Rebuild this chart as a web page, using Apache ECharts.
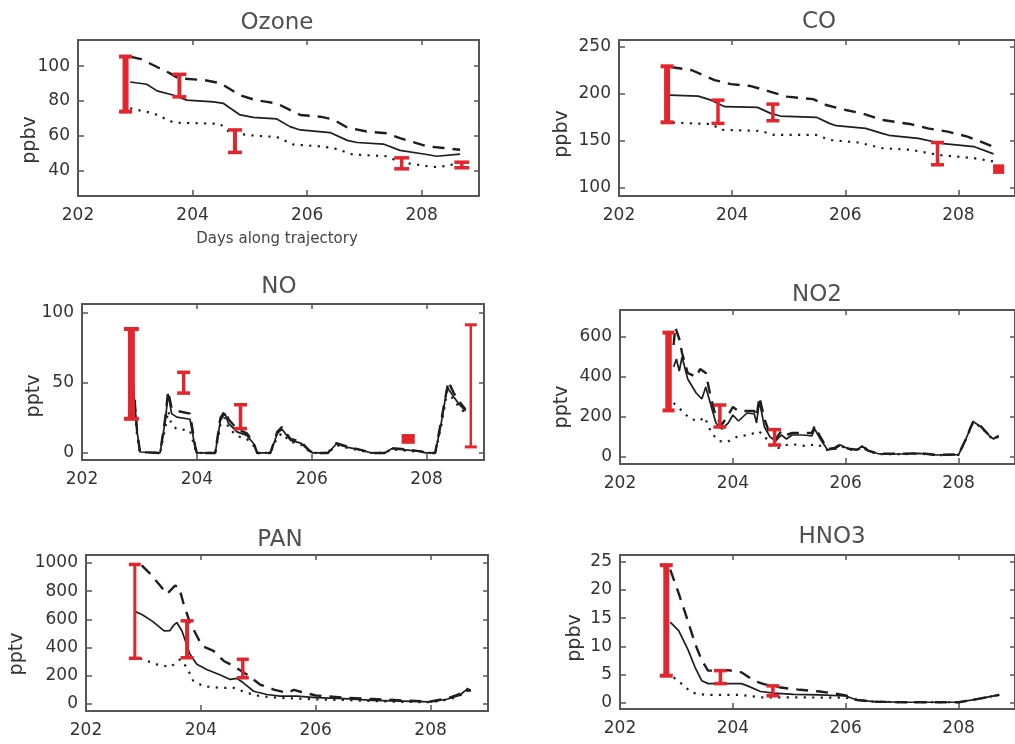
<!DOCTYPE html>
<html>
<head>
<meta charset="utf-8">
<script src="https://cdn.jsdelivr.net/npm/echarts@6.0.0/dist/echarts.min.js"></script>
<style>
html,body{margin:0;padding:0;background:#fff;}
#chart{width:1015px;height:744px;}
</style>
</head>
<body>
<div id="chart"></div>
<script>
// ---------------- DATA ----------------
const xTicks = [202, 204, 206, 208];

// Ozone (ppbv)
const ozoneDashed = [[202.91,105.5],[203.1,104],[203.38,99.5],[203.6,96],[203.75,93],[204.2,92],[204.48,90.3],[204.83,83.3],[205.1,80.5],[205.3,79.5],[205.47,78.6],[205.88,72],[206.23,71],[206.45,69.5],[206.7,64.8],[207.04,62.5],[207.39,61.5],[207.62,58.7],[208.09,54],[208.38,53],[208.67,52]];
const ozoneSolid = [[202.91,90.9],[203.2,89.6],[203.38,85.8],[203.67,83.3],[203.9,80.5],[204.37,79.5],[204.54,78.6],[204.83,72],[205.06,70.6],[205.47,69.7],[205.7,65.3],[205.88,63.4],[206.4,61.9],[206.7,57.4],[206.87,56.2],[207.33,55.3],[207.62,51.7],[208.09,49.3],[208.26,48.3],[208.67,49.5]];
const ozoneDotted = [[202.91,75.8],[203.32,72.9],[203.67,67.6],[204.48,66.9],[204.66,61.6],[205.06,60.2],[205.47,59.3],[205.76,55],[206.23,54],[206.46,53],[206.8,49.3],[207.39,48.3],[207.62,44.9],[208.2,42.1],[208.44,42.7],[208.67,44.9]];
const ozoneObs = [[202.83,73.9,105.5],[203.77,82.4,95.3],[204.74,50.5,63.4],[207.65,41.1,47.4],[208.7,41.7,44.9]];
const ozoneTicks = [40, 60, 80, 100];

// CO (ppbv)
const coDashed = [[202.91,228.8],[203.29,225.3],[203.69,214.8],[203.98,210.5],[204.33,208.5],[204.68,202.4],[204.97,197.2],[205.43,194.6],[205.66,188.3],[206.01,183],[206.3,179.4],[206.65,172.4],[207.17,167.8],[207.46,163.5],[207.81,160],[208.16,154.7],[208.62,144]];
const coSolid = [[202.9,198.8],[203.4,197.8],[203.63,193.5],[203.87,186.5],[204.45,185.8],[204.68,179.4],[204.85,176.6],[205.49,175.2],[205.72,168.8],[205.84,166.3],[206.36,163.5],[206.65,158.2],[206.77,156.1],[207.29,152.9],[207.69,147.6],[208.27,144.1],[208.62,136.3]];
const coDotted = [[202.95,169.6],[203.63,168.1],[203.81,161.8],[204.5,160.8],[204.74,156.5],[205.49,156.5],[205.72,151.2],[206.24,148.4],[206.65,142.4],[207.17,140.6],[207.63,135.3],[208.27,131.8],[208.62,128.2]];
const coObs = [[202.85,169.9,229.5],[203.75,168.8,193.5],[204.72,171.6,189.3],[207.63,124.7,148.4],[208.71,116.6,123.6]];
const coTicks = [100, 150, 200, 250];

// NO (pptv)
const noDashed = [[202.88,52],[202.92,36],[202.96,15],[203.01,0.7],[203.36,0],[203.45,25],[203.5,44],[203.56,32],[203.65,30],[203.88,28],[203.97,5],[204.0,0],[204.32,0],[204.41,25],[204.49,30],[204.55,24],[204.7,17],[204.87,14],[204.99,7],[205.05,0],[205.28,0],[205.4,15],[205.48,18.5],[205.63,10],[205.81,8],[205.95,2],[206.02,0],[206.28,0],[206.43,7],[206.63,4.5],[206.87,2],[207.04,0],[207.27,0],[207.39,3.5],[207.68,2.5],[207.92,1],[207.98,0],[208.15,0],[208.25,22],[208.38,51],[208.47,43],[208.56,37],[208.68,31]];
const noSolid = [[202.88,50],[202.92,35],[202.96,15],[203.01,0.7],[203.36,0],[203.45,23],[203.5,42],[203.56,28],[203.65,25.5],[203.88,24],[203.97,4],[204.0,0],[204.32,0],[204.41,23],[204.49,28],[204.55,21],[204.7,15],[204.87,12.5],[204.99,6.6],[205.05,0],[205.28,0],[205.4,13.7],[205.48,17],[205.63,9],[205.81,7],[205.95,2],[206.02,0],[206.28,0],[206.43,6.4],[206.63,4],[206.87,2],[207.04,0],[207.27,0],[207.39,3],[207.68,2],[207.92,1],[207.98,0],[208.15,0],[208.25,20],[208.36,47],[208.47,40],[208.56,35],[208.68,30]];
const noDotted = [[202.88,45],[202.92,30],[202.96,12],[203.01,0.5],[203.36,0],[203.45,18],[203.5,30],[203.56,20],[203.65,17],[203.88,16],[203.97,3],[204.0,0],[204.32,0],[204.41,20],[204.49,25],[204.55,18],[204.7,12],[204.87,10],[204.99,5],[205.05,0],[205.28,0],[205.4,11],[205.48,14],[205.63,8],[205.81,6],[205.95,1.5],[206.02,0],[206.28,0],[206.43,5.5],[206.63,3.5],[206.87,1.5],[207.04,0],[207.27,0],[207.39,2.5],[207.68,1.5],[207.92,0.8],[207.98,0],[208.15,0],[208.25,18],[208.36,44],[208.47,38],[208.56,33],[208.68,28]];
const noObs = [[202.86,24.3,88.2],[203.77,42.6,57.4],[204.76,17.3,34.3],[207.68,7.6,12.4],[208.77,4.3,91.2]];
const noTicks = [0, 50, 100];

// NO2 (pptv)
const no2Dashed = [[202.95,560],[202.98,650],[203.05,590],[203.1,520],[203.2,420],[203.35,400],[203.42,440],[203.52,420],[203.6,310],[203.7,200],[203.8,160],[203.92,210],[204.0,250],[204.1,230],[204.25,230],[204.38,230],[204.42,200],[204.47,300],[204.56,190],[204.66,110],[204.76,90],[204.86,130],[204.95,110],[205.05,120],[205.25,120],[205.4,120],[205.45,155],[205.55,100],[205.68,40],[205.8,45],[205.91,63],[206.05,42],[206.2,37],[206.29,57],[206.4,32],[206.6,16],[207.0,16],[207.3,19],[207.6,11],[208.0,13],[208.1,72],[208.26,178],[208.4,152],[208.55,106],[208.62,91],[208.71,106]];
const no2Solid = [[202.95,450],[203.0,490],[203.05,430],[203.1,500],[203.2,390],[203.35,320],[203.45,290],[203.52,350],[203.6,270],[203.7,170],[203.8,140],[203.92,170],[204.0,210],[204.1,180],[204.25,220],[204.38,215],[204.42,170],[204.47,280],[204.56,150],[204.66,100],[204.76,80],[204.86,110],[204.95,90],[205.05,110],[205.25,110],[205.4,105],[205.45,140],[205.55,90],[205.68,35],[205.8,40],[205.91,60],[206.05,40],[206.2,35],[206.29,55],[206.4,30],[206.6,15],[207.0,15],[207.3,18],[207.6,10],[208.0,12],[208.1,70],[208.26,177],[208.4,150],[208.55,105],[208.62,90],[208.71,105]];
const no2Dotted = [[202.95,270],[203.1,230],[203.25,190],[203.4,180],[203.5,200],[203.62,120],[203.75,80],[203.9,75],[204.1,105],[204.3,110],[204.45,130],[204.55,110],[204.68,55],[204.8,45],[204.95,60],[205.1,62],[205.3,55],[205.5,65],[205.65,35],[205.8,38],[205.91,55],[206.05,38],[206.2,33],[206.29,52],[206.4,28],[206.6,14],[207.0,14],[207.3,17],[207.6,9],[208.0,11],[208.1,68],[208.26,175],[208.4,148],[208.55,103],[208.62,88],[208.71,103]];
const no2Obs = [[202.86,233,622],[203.77,150,260],[204.74,60,137]];
const no2Ticks = [0, 200, 400, 600];

// PAN (pptv)
const panDashed = [[202.97,983],[203.12,923],[203.29,840],[203.41,780],[203.55,840],[203.62,830],[203.7,709],[203.81,578],[203.9,507],[204.02,412],[204.22,376],[204.4,305],[204.57,269],[204.8,209],[205.03,138],[205.27,102],[205.5,79],[205.62,100],[205.75,85],[206.0,60],[206.5,45],[207.0,35],[207.5,25],[208.0,18],[208.3,40],[208.5,70],[208.62,110],[208.7,95]];
const panSolid = [[202.85,657],[202.98,633],[203.16,586],[203.36,519],[203.46,520],[203.52,555],[203.58,578],[203.67,519],[203.81,352],[203.93,281],[204.1,245],[204.34,205],[204.51,174],[204.63,181],[204.74,150],[204.92,90],[205.15,67],[205.38,55],[205.67,55],[206.0,45],[206.5,38],[207.0,25],[207.5,20],[208.0,15],[208.3,35],[208.5,60],[208.62,100],[208.7,90]];
const panDotted = [[202.94,324],[203.23,281],[203.47,262],[203.64,317],[203.76,257],[203.87,162],[204.05,126],[204.34,114],[204.57,114],[204.8,79],[205.03,55],[205.38,43],[205.67,38],[206.0,32],[206.5,28],[207.0,20],[207.5,15],[208.0,12],[208.3,30],[208.5,55],[208.62,95],[208.7,85]];
const panObs = [[202.85,324,990],[203.76,328,590],[204.73,186,317]];
const panTicks = [0, 200, 400, 600, 800, 1000];

// HNO3 (ppbv)
const hno3Dashed = [[202.89,23.6],[203.04,19.4],[203.18,15.2],[203.33,10.5],[203.45,7.5],[203.56,5.7],[203.74,5.7],[203.91,5.8],[204.15,5.4],[204.38,3.9],[204.55,3.3],[204.85,2.7],[205.19,2.3],[205.54,2.0],[205.9,1.5],[206.0,1.3],[206.2,0.5],[206.5,0.2],[207.0,0.1],[207.5,0.1],[208.0,0.1],[208.3,0.6],[208.72,1.4]];
const hno3Solid = [[202.89,14.3],[203.04,12.8],[203.21,9.3],[203.33,6.3],[203.45,3.9],[203.56,3.4],[203.85,3.4],[204.15,3.4],[204.26,3.0],[204.49,2.0],[204.73,1.7],[205.08,1.5],[205.54,1.4],[206.0,1.2],[206.2,0.5],[206.5,0.2],[207.0,0.1],[207.5,0.1],[208.0,0.1],[208.3,0.6],[208.72,1.4]];
const hno3Dotted = [[202.95,4.5],[203.1,3.3],[203.27,1.8],[203.51,1.4],[204.15,1.4],[204.49,0.95],[205.3,0.95],[206.0,0.9],[206.2,0.5],[206.5,0.2],[207.0,0.1],[207.5,0.1],[208.0,0.1],[208.3,0.6],[208.72,1.4]];
const hno3Obs = [[202.82,4.8,24.4],[203.78,3.4,5.7],[204.71,1.25,3.0]];
const hno3Ticks = [0, 5, 10, 15, 20, 25];

// ---------------- STYLE / LAYOUT ----------------
const RED = '#e3262d';
const LINE = '#1e1e1e';
const FONT = '"DejaVu Sans", "Liberation Sans", sans-serif';

// error-bar drawing sizes (px): stem width, cap width, cap height
const B = (s, c, h) => ({stem: s, cap: c, capH: h});
const panels = [
  {title: 'Ozone', unit: 'ppbv', dashed: ozoneDashed, solid: ozoneSolid, dotted: ozoneDotted, obs: ozoneObs, ticks: ozoneTicks,
   grid: {left: 78, top: 40, width: 401, height: 156}, yMin: 25.5, yMax: 115,
   titlePos: [277, 23], unitPos: [30, 140],
   bars: [B(6,13,4), B(4,14,3.5), B(4,14,3.5), B(3.5,15,3.5), B(3.5,15,3.5)]},
  {title: 'CO', unit: 'ppbv', dashed: coDashed, solid: coSolid, dotted: coDotted, obs: coObs, ticks: coTicks,
   grid: {left: 619, top: 40, width: 402, height: 156}, yMin: 91.5, yMax: 257.5,
   titlePos: [819, 22], unitPos: [562, 134],
   bars: [B(6,13,4), B(3.5,13,3.5), B(3.5,13,3.5), B(3.5,13,3.5), B(11,11,3)]},
  {title: 'NO', unit: 'pptv', dashed: noDashed, solid: noSolid, dotted: noDotted, obs: noObs, ticks: noTicks,
   grid: {left: 82, top: 304, width: 402, height: 156}, yMin: -5, yMax: 106,
   titlePos: [279, 287], unitPos: [34, 396],
   bars: [B(7,15,4), B(3.5,13,3.5), B(3.5,13,3.5), B(13,13,3), B(2.5,12,3)]},
  {title: 'NO2', unit: 'pptv', dashed: no2Dashed, solid: no2Solid, dotted: no2Dotted, obs: no2Obs, ticks: no2Ticks,
   grid: {left: 620, top: 310, width: 401, height: 154}, yMin: -35, yMax: 735,
   titlePos: [817, 295], unitPos: [562, 407],
   bars: [B(6.5,12,4), B(3.5,13,3.5), B(3.5,13,3.5)]},
  {title: 'PAN', unit: 'pptv', dashed: panDashed, solid: panSolid, dotted: panDotted, obs: panObs, ticks: panTicks,
   grid: {left: 86, top: 555, width: 402, height: 156}, yMin: -50, yMax: 1057,
   titlePos: [280, 540], unitPos: [17, 654],
   bars: [B(3,12,3.5), B(4,13,3.5), B(3.5,12,3.5)]},
  {title: 'HNO3', unit: 'ppbv', dashed: hno3Dashed, solid: hno3Solid, dotted: hno3Dotted, obs: hno3Obs, ticks: hno3Ticks,
   grid: {left: 620, top: 555, width: 401, height: 154}, yMin: -1.1, yMax: 26.2,
   titlePos: [832, 537], unitPos: [575, 638],
   bars: [B(6,13,4), B(3.5,13,3.5), B(3.5,13,3.5)]}
];

// ---------------- BUILD ----------------
const grids = [], xAxes = [], yAxes = [], series = [], graphics = [];
const axisLine = {show: true, onZero: false, lineStyle: {color: '#555', width: 2}};
const labelStyle = {color: '#333', fontFamily: FONT, fontSize: 17};
const tickStyle = {color: '#555', width: 1.5};

panels.forEach((p, i) => {
  grids.push(Object.assign({containLabel: false}, p.grid));
  // bottom & top x axes
  xAxes.push({type: 'value', gridIndex: i, position: 'bottom', min: 202, max: 209,
    axisLine: axisLine, splitLine: {show: false},
    axisTick: {show: true, inside: true, length: 6, customValues: xTicks, lineStyle: tickStyle},
    axisLabel: Object.assign({margin: 11, customValues: xTicks, formatter: v => String(v)}, labelStyle)});
  xAxes.push({type: 'value', gridIndex: i, position: 'top', min: 202, max: 209,
    axisLine: axisLine, splitLine: {show: false},
    axisTick: {show: true, inside: true, length: 5, customValues: xTicks, lineStyle: tickStyle},
    axisLabel: {show: false}});
  // left & right y axes
  yAxes.push({type: 'value', gridIndex: i, position: 'left', min: p.yMin, max: p.yMax,
    axisLine: axisLine, splitLine: {show: false},
    axisTick: {show: true, inside: true, length: 6, customValues: p.ticks, lineStyle: tickStyle},
    axisLabel: Object.assign({margin: 8, customValues: p.ticks, formatter: v => String(v)}, labelStyle)});
  yAxes.push({type: 'value', gridIndex: i, position: 'right', min: p.yMin, max: p.yMax,
    axisLine: axisLine, splitLine: {show: false},
    axisTick: {show: true, inside: true, length: 5, customValues: p.ticks, lineStyle: tickStyle},
    axisLabel: {show: false}});

  const xi = 2 * i, yi = 2 * i;
  const lineBase = {type: 'line', xAxisIndex: xi, yAxisIndex: yi, showSymbol: false, symbol: 'none', silent: true, z: 3};
  series.push(Object.assign({}, lineBase, {name: p.title + ' dashed', data: p.dashed,
    lineStyle: {color: LINE, width: 2.4, type: [12, 8]}}));
  series.push(Object.assign({}, lineBase, {name: p.title + ' solid', data: p.solid,
    lineStyle: {color: LINE, width: 1.7, type: 'solid'}}));
  series.push(Object.assign({}, lineBase, {name: p.title + ' dotted', data: p.dotted,
    lineStyle: {color: LINE, width: 2.2, type: [2.2, 6.3]}}));

  const bars = p.bars;
  series.push({
    type: 'custom', name: p.title + ' obs', xAxisIndex: xi, yAxisIndex: yi, z: 5, silent: true,
    data: p.obs,
    encode: {x: 0, y: [1, 2]},
    renderItem: function (params, api) {
      const x = api.value(0), lo = api.value(1), hi = api.value(2);
      const t = api.coord([x, hi]), b = api.coord([x, lo]);
      const st = bars[params.dataIndex];
      const cx = t[0];
      return {type: 'group', children: [
        {type: 'rect', shape: {x: cx - st.stem / 2, y: t[1], width: st.stem, height: b[1] - t[1]}, style: {fill: RED}},
        {type: 'rect', shape: {x: cx - st.cap / 2, y: t[1] - st.capH / 2, width: st.cap, height: st.capH}, style: {fill: RED}},
        {type: 'rect', shape: {x: cx - st.cap / 2, y: b[1] - st.capH / 2, width: st.cap, height: st.capH}, style: {fill: RED}}
      ]};
    }
  });

  graphics.push({type: 'text', x: p.titlePos[0], y: p.titlePos[1], silent: true,
    style: {text: p.title, font: '23px ' + FONT, fill: '#505050', align: 'center', verticalAlign: 'middle'}});
  graphics.push({type: 'text', x: p.unitPos[0], y: p.unitPos[1], rotation: Math.PI / 2, silent: true,
    style: {text: p.unit, font: '19px ' + FONT, fill: '#333', align: 'center', verticalAlign: 'middle'}});
});

graphics.push({type: 'text', x: 277, y: 239, silent: true,
  style: {text: 'Days along trajectory', font: '15px ' + FONT, fill: '#444', align: 'center', verticalAlign: 'middle'}});

const chart = echarts.init(document.getElementById('chart'), null, {renderer: 'canvas'});
chart.setOption({
  animation: false,
  backgroundColor: '#fff',
  grid: grids,
  xAxis: xAxes,
  yAxis: yAxes,
  series: series,
  graphic: graphics
});
</script>
</body>
</html>
